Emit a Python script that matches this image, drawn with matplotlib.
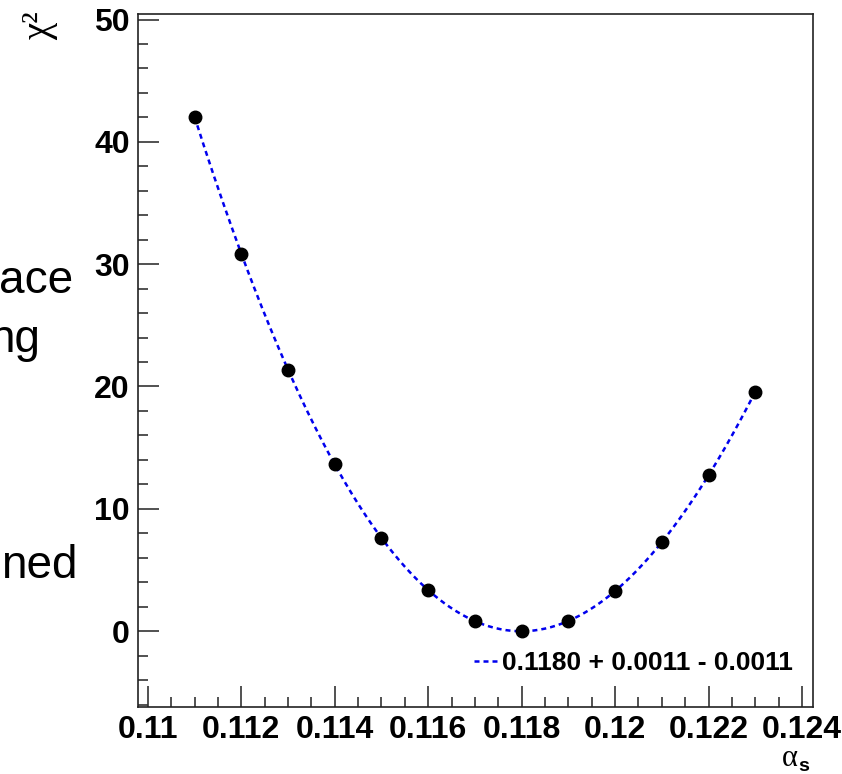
import numpy as np
import matplotlib
matplotlib.use('Agg')
import matplotlib.pyplot as plt
from matplotlib.ticker import MultipleLocator

plt.rcParams['font.family'] = ['Liberation Sans', 'DejaVu Sans']

# data
alpha_s = [0.111, 0.112, 0.113, 0.114, 0.115, 0.116, 0.117,
           0.118, 0.119, 0.120, 0.121, 0.122, 0.123]
chi2 = [42.06, 30.85, 21.36, 13.67, 7.61, 3.36, 0.82,
        0.0, 0.82, 3.27, 7.28, 12.77, 19.56]
fit_label = '0.1180 + 0.0011 - 0.0011'
side_words = ['ace', 'ng', 'ned']

W, H = 842, 774
fig = plt.figure(figsize=(W / 100, H / 100), dpi=100)
ax = fig.add_axes([138 / W, 1 - 707 / H, (813 - 138) / W, (707 - 14) / H])

# fit curve (polynomial fit of the points, like the original fit)
coef = np.polyfit(alpha_s, chi2, 4)
xf = np.linspace(alpha_s[0], alpha_s[-1], 300)
ax.plot(xf, np.polyval(coef, xf), color='#0000ee', lw=1.8,
        dashes=(2.0, 1.6), label=fit_label, zorder=2)
ax.plot(alpha_s, chi2, 'o', color='black', ms=9, zorder=3)

ax.set_xlim(0.10979, 0.124235)
ax.set_ylim(-6.2, 50.45)
ax.xaxis.set_major_locator(MultipleLocator(0.002))
ax.xaxis.set_minor_locator(MultipleLocator(0.0005))
ax.yaxis.set_major_locator(MultipleLocator(10))
ax.yaxis.set_minor_locator(MultipleLocator(2))
ax.set_xticks([0.11, 0.112, 0.114, 0.116, 0.118, 0.12, 0.122, 0.124])
ax.set_xticklabels(['0.11', '0.112', '0.114', '0.116', '0.118', '0.12', '0.122', '0.124'])

ax.tick_params(which='both', direction='in', top=False, right=False,
               color='#333333', width=1.2)
ax.tick_params(which='major', length=15, labelsize=23, pad=6)
ax.tick_params(which='minor', length=7.5)
for lab in ax.get_xticklabels() + ax.get_yticklabels():
    lab.set_fontweight('bold')
for sp in ax.spines.values():
    sp.set_linewidth(1.2)
    sp.set_color('#222222')

leg = ax.legend(loc='center right', bbox_to_anchor=(806 / W, 1 - 663 / H),
                bbox_transform=fig.transFigure, frameon=False,
                handlelength=0.9, handletextpad=0.15, borderpad=0,
                prop={'weight': 'bold', 'size': 19})

# axis titles, ROOT style
fig.text(40 / W, 1 - 26 / H, 'χ²', rotation=90, fontsize=28,
         family='Liberation Serif', ha='center', va='center')
fig.text(798 / W, 1 - 766 / H, 'α', fontsize=22, family='Liberation Serif',
         ha='right', va='baseline')
fig.text(798 / W, 1 - 771 / H, 's', fontsize=14, fontweight='bold',
         ha='left', va='baseline')

# words cut off at the left border
fig.text(73 / W, 1 - 293 / H, side_words[0], fontsize=33, ha='right', va='baseline')
fig.text(40 / W, 1 - 352 / H, side_words[1], fontsize=33, ha='right', va='baseline')
fig.text(78 / W, 1 - 578 / H, side_words[2], fontsize=33, ha='right', va='baseline')

fig.savefig('out.png', dpi=100)
